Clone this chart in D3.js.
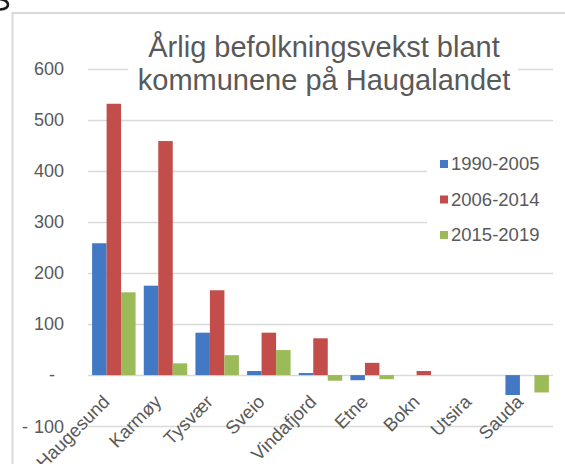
<!DOCTYPE html>
<html><head><meta charset="utf-8">
<script src="https://cdn.jsdelivr.net/npm/d3@7"></script>
<style>html,body{margin:0;padding:0;background:#fff;overflow:hidden}svg{display:block;font-family:"Liberation Sans",Arial,sans-serif}</style>
</head><body>
<svg id="c" width="565" height="464"></svg>
<script>
const categories = ["Haugesund","Karmøy","Tysvær","Sveio","Vindafjord","Etne","Bokn","Utsira","Sauda"];
const seriesNames = ["1990-2005","2006-2014","2015-2019"];
const s1990_2005 = [258, 175, 83, 8, 4, -10, 0, 0, -39];
const s2006_2014 = [531, 458, 166, 83, 72, 24, 8, 0, 0];
const s2015_2019 = [162, 23, 39, 49, -11, -8, 0, 0, -34];
const yTicks = [-100, 0, 100, 200, 300, 400, 500, 600];
const colors = ["#4379c4", "#c24d4a", "#9bbb59"];
const titleLines = ["Årlig befolkningsvekst blant", "kommunene på Haugalandet"];

const series = [s1990_2005, s2006_2014, s2015_2019];
const svg = d3.select("#c");
const left = 88, right = 553;

// fragment of a letter at the top-left corner
svg.append("path").attr("d", "M-2,-1 C5,-1 8,2 8,4.5 C8,7.5 5,9.5 -2,9.5")
  .attr("fill", "none").attr("stroke", "#1a1a1a").attr("stroke-width", 2.6);

// chart border
svg.append("rect").attr("x", 12.5).attr("y", 13).attr("width", 600).attr("height", 500)
  .attr("fill", "none").attr("stroke", "#d9d9d9").attr("stroke-width", 2);

const y = d3.scaleLinear().domain([-100, 600]).range([426.2, 68.5]);
const x0 = d3.scaleBand().domain(categories).range([left, right]).paddingInner(0).paddingOuter(0);
const x1 = d3.scaleBand().domain(seriesNames).range([4.1, x0.bandwidth() - 4.1]).padding(0);

// gridlines
svg.append("g").selectAll("line").data(yTicks).join("line")
  .attr("x1", left).attr("x2", right)
  .attr("y1", d => Math.round(y(d)) + 0.5).attr("y2", d => Math.round(y(d)) + 0.5)
  .attr("stroke", "#d9d9d9").attr("stroke-width", 1.5);

// y labels (accounting style: "-" for zero, "- n" for negatives)
const yl = svg.append("g").attr("font-size", 18).attr("fill", "#595959");
yl.selectAll("text.num").data(yTicks.filter(d => d !== 0)).join("text").attr("class", "num")
  .attr("x", 64).attr("y", d => y(d)).attr("dy", "0.35em").attr("text-anchor", "end")
  .text(d => String(Math.abs(d)));
yl.selectAll("text.neg").data(yTicks.filter(d => d < 0)).join("text").attr("class", "neg")
  .attr("x", 22).attr("y", d => y(d)).attr("dy", "0.35em").text("-");
yl.selectAll("text.zero").data(yTicks.filter(d => d === 0)).join("text").attr("class", "zero")
  .attr("x", 55).attr("y", d => y(d)).attr("dy", "0.35em").attr("text-anchor", "end").text("-");

// bars
const g = svg.append("g");
categories.forEach((c, i) => {
  series.forEach((s, k) => {
    const v = s[i];
    if (v === 0) return;
    g.append("rect")
      .attr("x", x0(c) + x1(seriesNames[k]))
      .attr("width", x1.bandwidth())
      .attr("y", y(Math.max(0, v)))
      .attr("height", Math.abs(y(v) - y(0)))
      .attr("fill", colors[k]);
  });
});

// x labels
svg.append("g").selectAll("text").data(categories).join("text")
  .attr("transform", d => `translate(${x0(d) + x0.bandwidth() / 2 - 3},${403}) rotate(-45)`)
  .attr("text-anchor", "end").attr("font-size", 18.5).attr("fill", "#595959")
  .text(d => d);

// title with white background
svg.append("rect").attr("x", 128).attr("y", 25).attr("width", 390).attr("height", 75).attr("fill", "#fff");
svg.append("g").selectAll("text").data(titleLines).join("text")
  .attr("x", 324).attr("y", (d, i) => 57 + i * 33)
  .attr("text-anchor", "middle").attr("font-size", 29).attr("fill", "#595959")
  .text(d => d);

// legend
const lg = svg.append("g");
lg.append("rect").attr("x", 427).attr("y", 140).attr("width", 128).attr("height", 110).attr("fill", "#fff");
seriesNames.forEach((n, k) => {
  const cy = 164 + k * 35.5;
  lg.append("rect").attr("x", 440).attr("y", cy - 4).attr("width", 8).attr("height", 8).attr("fill", colors[k]);
  lg.append("text").attr("x", 451).attr("y", cy).attr("dy", "0.35em").attr("font-size", 18.5)
    .attr("fill", "#595959").text(n);
});
</script>
</body></html>
